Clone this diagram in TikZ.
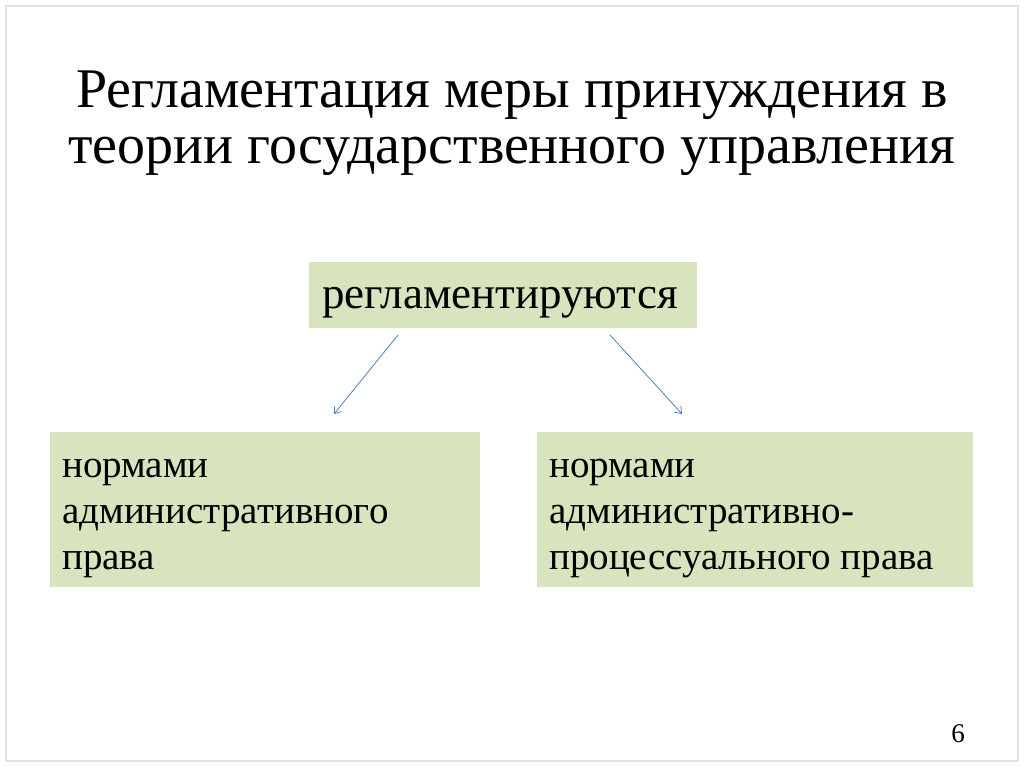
\documentclass[tikz,border=0pt]{standalone}
\usepackage{fontspec}
\setmainfont{Liberation Serif}
\usepackage{tikz}
\usetikzlibrary{arrows.meta}
\definecolor{boxgreen}{HTML}{D7E4BD}
\definecolor{arrowblue}{HTML}{4F81BD}

\begin{document}
\begin{tikzpicture}[x=1pt, y=-1pt,
                    txt/.style={font=\fontsize{39}{46}\selectfont, align=left, anchor=north west, inner sep=0},
                    link/.style={draw=arrowblue, line width=0.8pt, -{Straight Barb[length=6pt, width=9pt]}}]
                \useasboundingbox (0,0) rectangle (1024,767);
                \draw [black!12, line width=1.5pt] (6,6) rectangle (1018,761);

                \node (title) [font=\fontsize{56}{56}\selectfont, align=center] at (512,123)
                    {Регламентация меры принуждения в\\теории государственного управления};

                \fill [boxgreen] (309,262) rectangle (697,328);
                \node (top) [font=\fontsize{45}{50}\selectfont] at (500,303) {регламентируются};

                \fill [boxgreen] (50,432) rectangle (480,587);
                \node (left) [txt] at (62,459) {нормами\\административного\\права};

                \fill [boxgreen] (537,432) rectangle (973,587);
                \node (right) [txt] at (549,459) {нормами\\административно-\\процессуального права};

                \coordinate (a1) at (398,335);
                \coordinate (a2) at (334,414);
                \coordinate (b1) at (610,335);
                \coordinate (b2) at (682,414);
                \draw [link] (a1) -- (a2);
                \draw [link] (b1) -- (b2);

                \node (page) [font=\fontsize{27}{30}\selectfont] at (958,734) {6};
            \end{tikzpicture}
\end{document}
